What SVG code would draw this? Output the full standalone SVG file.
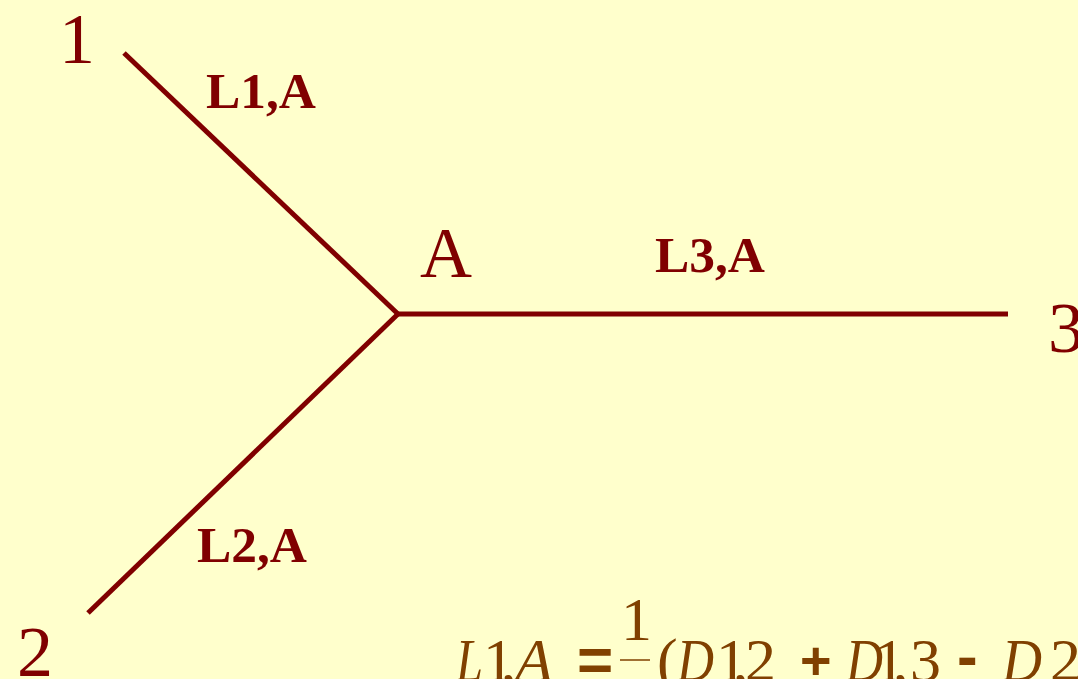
<svg xmlns="http://www.w3.org/2000/svg" width="1078" height="679" viewBox="0 0 1078 679">
<style>
.bg{fill:#FFFFCC}
.edge{stroke:#800000;stroke-width:5;fill:none;stroke-linecap:butt}
.num{font-family:"Liberation Serif",serif;font-size:72px;fill:#800000}
.lbl{font-family:"Liberation Serif",serif;font-size:50px;font-weight:bold;fill:#800000}
.eq{font-family:"Liberation Serif",serif;font-size:62px;fill:#804000}
.it{font-style:italic}
.sym{font-family:"Liberation Sans",sans-serif;font-weight:bold}
</style>
<rect class="bg" x="0" y="0" width="1078" height="679"/>
<g id="connectors">
<line class="edge" x1="124" y1="53" x2="398" y2="314"/>
<line class="edge" x1="398" y1="314" x2="88" y2="613"/>
<line class="edge" x1="398" y1="314" x2="1008" y2="314"/>
</g>
<g id="node1"><text class="num" x="59" y="63">1</text></g>
<g id="node2"><text class="num" x="17" y="676">2</text></g>
<g id="node3"><text class="num" x="1048" y="352">3</text></g>
<g id="nodeA"><text class="num" x="420" y="277">A</text></g>
<g id="label-L1A"><text class="lbl" x="206" y="108" textLength="110" lengthAdjust="spacingAndGlyphs">L1,A</text></g>
<g id="label-L2A"><text class="lbl" x="197" y="562" textLength="110" lengthAdjust="spacingAndGlyphs">L2,A</text></g>
<g id="label-L3A"><text class="lbl" x="655" y="272" textLength="110" lengthAdjust="spacingAndGlyphs">L3,A</text></g>
<g id="formula">
<text class="eq" y="681"><tspan class="it" x="456" textLength="27" lengthAdjust="spacingAndGlyphs">L</tspan><tspan x="483">1</tspan><tspan x="501">,</tspan><tspan class="it" x="515">A</tspan><tspan class="sym" x="577">=</tspan><tspan x="657">(</tspan><tspan class="it" x="677" textLength="37" lengthAdjust="spacingAndGlyphs">D</tspan><tspan x="716">1</tspan><tspan x="733">,</tspan><tspan x="745">2</tspan><tspan class="sym" x="800" font-size="54" dy="-2">+</tspan><tspan class="it" x="846" dy="2" textLength="37" lengthAdjust="spacingAndGlyphs">D</tspan><tspan x="874">1</tspan><tspan x="893">,</tspan><tspan x="910">3</tspan><tspan class="sym" x="957" dy="-4">-</tspan><tspan class="it" x="1002" dy="4" textLength="40" lengthAdjust="spacingAndGlyphs">D</tspan><tspan x="1050">2</tspan><tspan x="1073">.</tspan></text>
<text class="eq" x="621" y="640">1</text>
<line x1="620" y1="660" x2="650" y2="660" stroke="#804000" stroke-width="1.5"/>
</g>
</svg>
